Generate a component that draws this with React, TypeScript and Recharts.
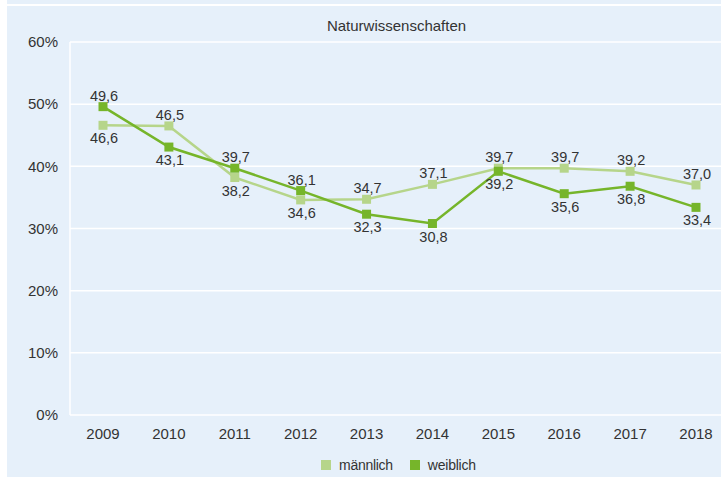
import React from "react";
import { LineChart, Line, XAxis, YAxis, CartesianGrid, LabelList, Legend } from "recharts";

const years = ["2009", "2010", "2011", "2012", "2013", "2014", "2015", "2016", "2017", "2018"];
const maennlich = [46.6, 46.5, 38.2, 34.6, 34.7, 37.1, 39.7, 39.7, 39.2, 37.0];
const weiblich = [49.6, 43.1, 39.7, 36.1, 32.3, 30.8, 39.2, 35.6, 36.8, 33.4];
const yTicks = [0, 10, 20, 30, 40, 50, 60];
const title = "Naturwissenschaften";

const data = years.map((y, i) => ({ year: y, m: maennlich[i], w: weiblich[i] }));

const LIGHT = "#b6d58a";
const DARK = "#76b52a";
const TEXT = "#333333";
const BG = "#e6f0fa";
const FONT = "'Liberation Sans', Arial, sans-serif";

const makeLabel = (own: number[], other: number[]) => (props: any) => {
  const { x, y, index, value } = props;
  const above = own[index] >= other[index];
  return (
    <text
      x={x + 1}
      y={above ? y - 11 : y + 13}
      textAnchor="middle"
      dominantBaseline="central"
      fontSize={14.5}
      fill={TEXT}
      fontFamily={FONT}
    >
      {Number(value).toFixed(1).replace(".", ",")}
    </text>
  );
};

const SquareDot = (color: string) => (props: any) => {
  const { cx, cy } = props;
  if (cx == null || cy == null) return null;
  return <rect x={cx - 4.5} y={cy - 4.5} width={9} height={9} fill={color} />;
};

const LegendContent = () => (
  <div
    style={{
      display: "flex",
      justifyContent: "center",
      alignItems: "center",
      fontFamily: FONT,
      fontSize: 14,
      color: TEXT,
      height: 24,
      paddingLeft: 76,
    }}
  >
    <span style={{ display: "inline-block", width: 10, height: 10, background: LIGHT, marginRight: 8 }} />
    <span style={{ marginRight: 17, letterSpacing: -0.3 }}>männlich</span>
    <span style={{ display: "inline-block", width: 10, height: 10, background: DARK, marginRight: 8 }} />
    <span style={{ letterSpacing: -0.2 }}>weiblich</span>
  </div>
);

export default function App() {
  return (
    <div style={{ position: "absolute", left: 0, top: 0, width: 721, height: 477, background: "#ffffff", overflow: "hidden" }}>
      <div style={{ position: "absolute", left: 7, top: 0, width: 714, height: 477, background: BG }} />
      <div style={{ position: "absolute", left: 7, top: 4, width: 714, height: 2, background: "#ffffff" }} />
      <div
        style={{
          position: "absolute",
          left: 0,
          top: 17,
          width: 721,
          paddingLeft: 72,
          boxSizing: "border-box",
          textAlign: "center",
          fontFamily: FONT,
          fontSize: 15,
          color: TEXT,
        }}
      >
        {title}
      </div>
      <div style={{ position: "absolute", left: 0, top: 0 }}>
        <LineChart width={721} height={477} data={data} margin={{ top: 42, right: 0, left: 0, bottom: 0 }}>
          <CartesianGrid vertical={false} stroke="#ffffff" strokeWidth={1.5} />
          <XAxis
            dataKey="year"
            axisLine={false}
            tickLine={false}
            padding={{ left: 33, right: 25 }}
            tick={{ fill: TEXT, fontSize: 15, fontFamily: FONT }}
            tickMargin={7}
            height={38}
            interval={0}
          />
          <YAxis
            domain={[0, 60]}
            ticks={yTicks}
            width={70}
            axisLine={{ stroke: "#ffffff", strokeWidth: 1.5 }}
            tickLine={false}
            tickFormatter={(v: number) => `${v}%`}
            tick={{ fill: TEXT, fontSize: 15, fontFamily: FONT }}
            tickMargin={6}
          />
          <Legend verticalAlign="bottom" height={24} content={LegendContent} />
          <Line
            type="linear"
            dataKey="m"
            stroke={LIGHT}
            strokeWidth={2.5}
            dot={SquareDot(LIGHT)}
            activeDot={false}
            isAnimationActive={false}
          >
            <LabelList dataKey="m" content={makeLabel(maennlich, weiblich)} />
          </Line>
          <Line
            type="linear"
            dataKey="w"
            stroke={DARK}
            strokeWidth={2.5}
            dot={SquareDot(DARK)}
            activeDot={false}
            isAnimationActive={false}
          >
            <LabelList dataKey="w" content={makeLabel(weiblich, maennlich)} />
          </Line>
        </LineChart>
      </div>
    </div>
  );
}
